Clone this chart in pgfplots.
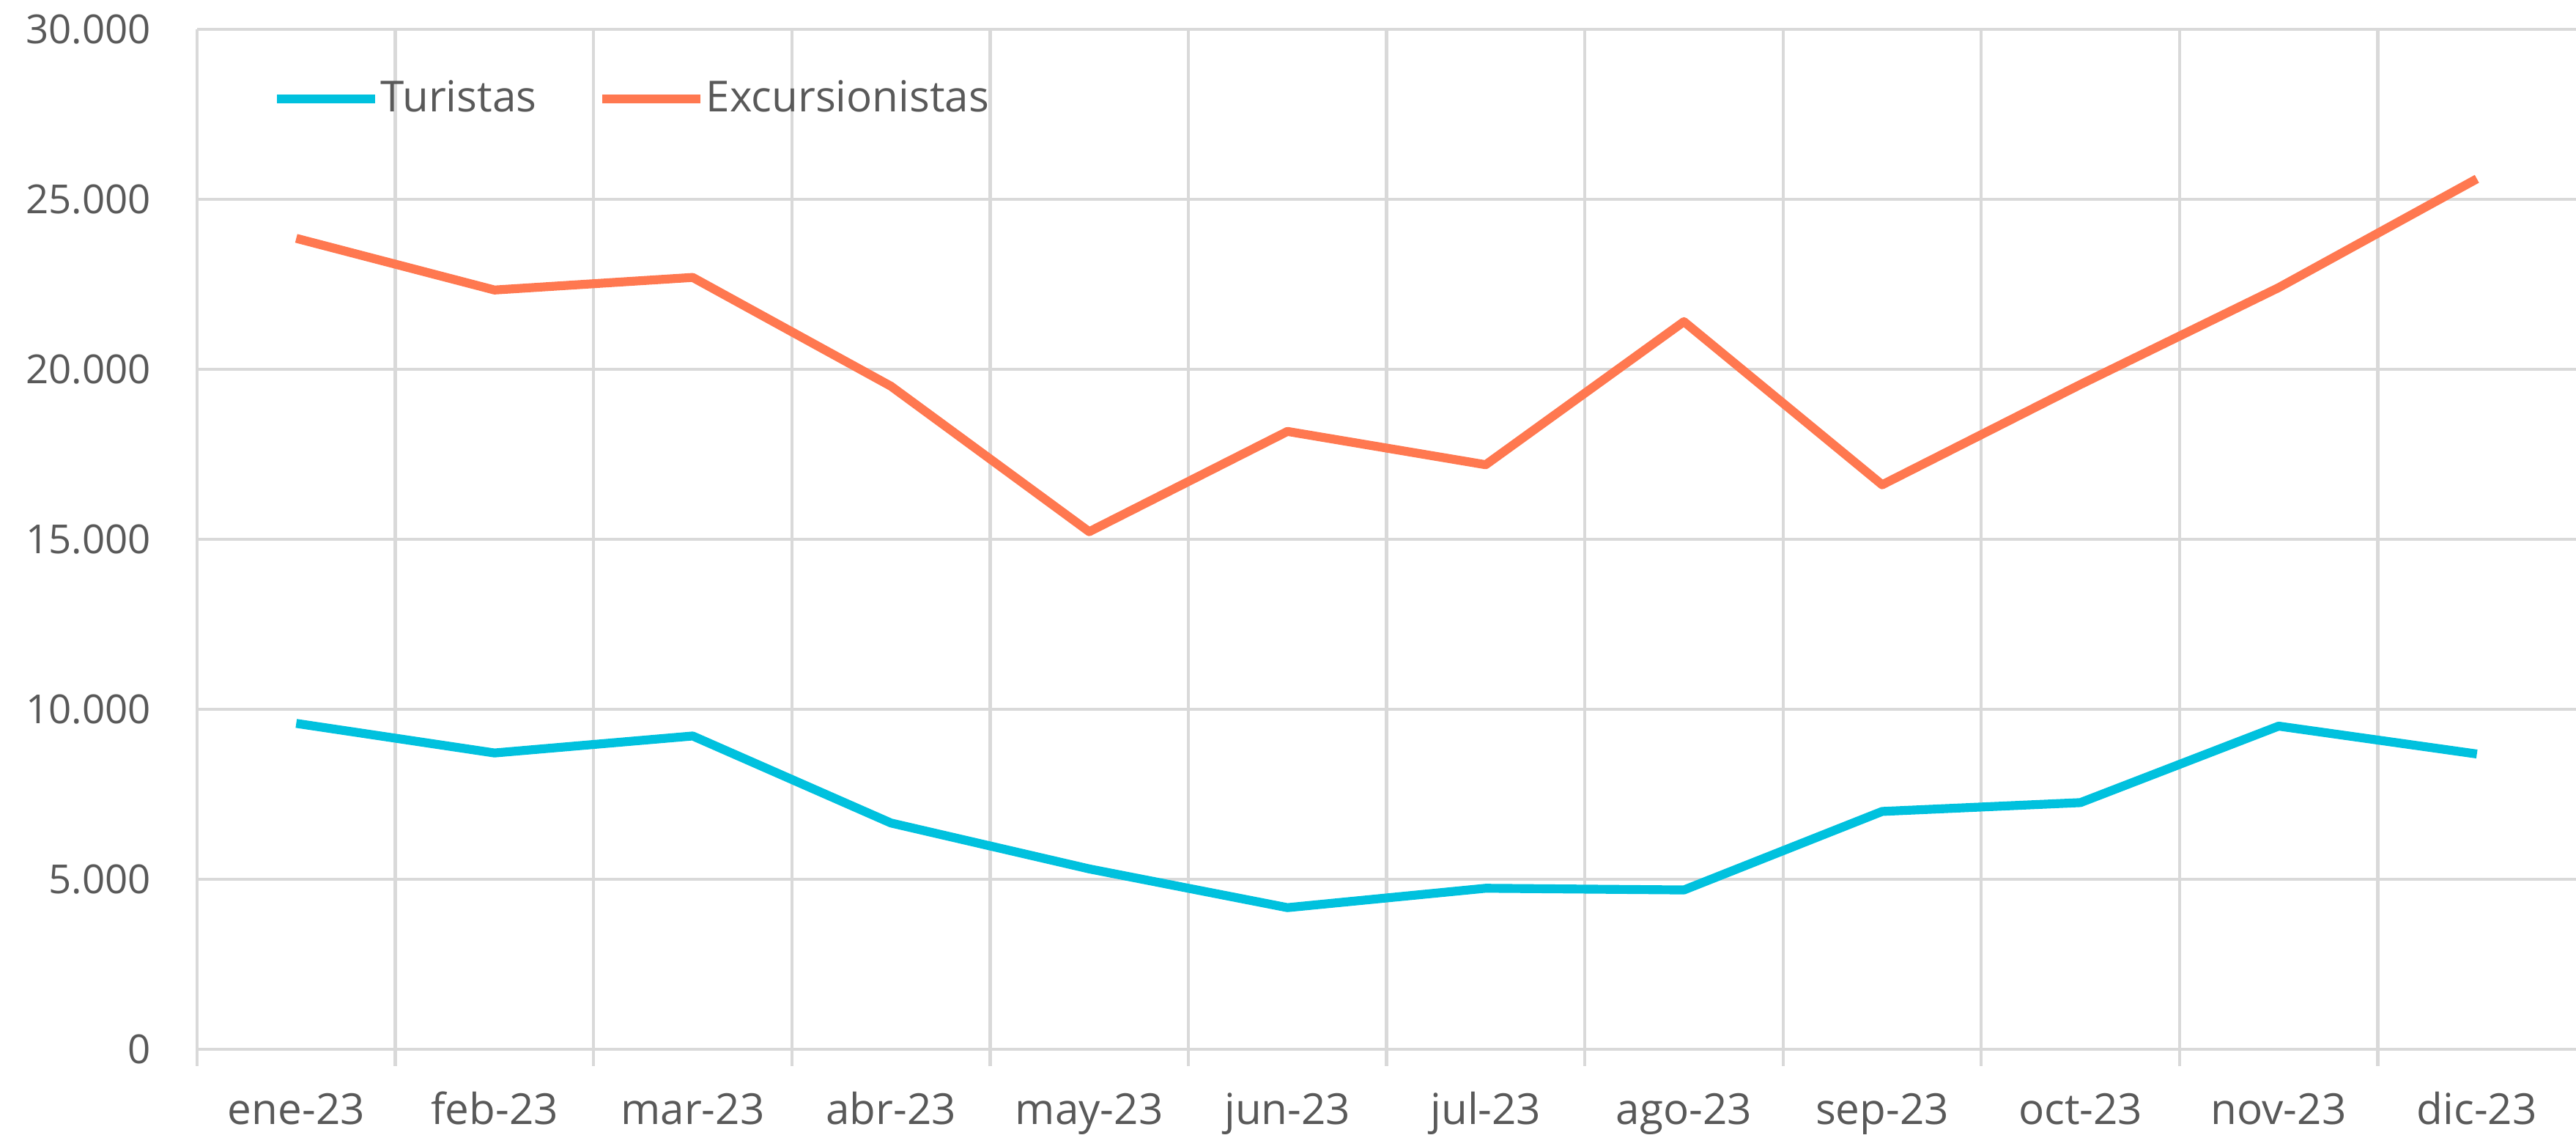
\documentclass[border=0pt]{standalone}
\usepackage{fontspec}
\setmainfont{Open Sans}
\usepackage{pgfplots}
\pgfplotsset{compat=1.18}
\definecolor{tur}{HTML}{00C1DE}
\definecolor{exc}{HTML}{FF7850}
\definecolor{txt}{HTML}{595959}
\definecolor{grd}{HTML}{D9D9D9}
\begin{document}
\begin{tikzpicture}
\begin{axis}[name=ax, scale only axis, width=601pt, height=257.6pt,
  xmin=-0.5, xmax=11.5, ymin=0, ymax=30000,
  axis line style={draw=none},
  xtick={0,...,11},
  xticklabels={ene-23,feb-23,mar-23,abr-23,may-23,jun-23,jul-23,ago-23,sep-23,oct-23,nov-23,dic-23},
  minor xtick={-0.5,0.5,...,10.5},
  ytick={0,5000,...,30000},
  yticklabels={0,5.000,10.000,15.000,20.000,25.000,30.000},
  ymajorgrids, xminorgrids,
  grid style={grd, line width=0.8pt},
  minor grid style={grd, line width=0.8pt},
  major tick length=0pt, minor tick length=4.3pt,
  tick align=outside, xtick pos=lower, ytick pos=left,
  minor tick style={grd, line width=0.8pt},
  tick label style={text=txt, inner sep=0pt},
  xticklabel style={font=\fontsize{10.8}{13}\selectfont, text height=8.2pt},
  yticklabel style={font=\fontsize{10.1}{12}\selectfont},
  xticklabel shift=10.7pt, yticklabel shift=11.5pt,
  legend style={at={(0.0314,0.9317)}, anchor=west, draw=none, fill=none, inner sep=0pt,
    font=\fontsize{10.8}{13}\selectfont, text=txt, nodes={inner sep=0.3pt},
    /tikz/every even column/.append style={column sep=15.2pt}},
  legend columns=2,
  legend image code/.code={\draw[#1] (0pt,0pt) -- (24.8pt,0pt);},
  every axis plot/.append style={line width=2.25pt, line join=round, mark=none},
]
\addplot[tur] coordinates {(0,9580) (1,8710) (2,9210) (3,6650) (4,5300) (5,4160) (6,4730) (7,4680) (8,6990) (9,7250) (10,9500) (11,8680)};
\addplot[exc] coordinates {(0,23850) (1,22330) (2,22700) (3,19500) (4,15220) (5,18170) (6,17190) (7,21400) (8,16600) (9,19550) (10,22400) (11,25600)};
\legend{Turistas,Excursionistas}
\end{axis}
\pgfresetboundingbox
\path ([shift={(-49.8pt,-21.7pt)}]ax.south west) rectangle ([shift={(0pt,7.4pt)}]ax.north east);
\end{tikzpicture}
\end{document}
